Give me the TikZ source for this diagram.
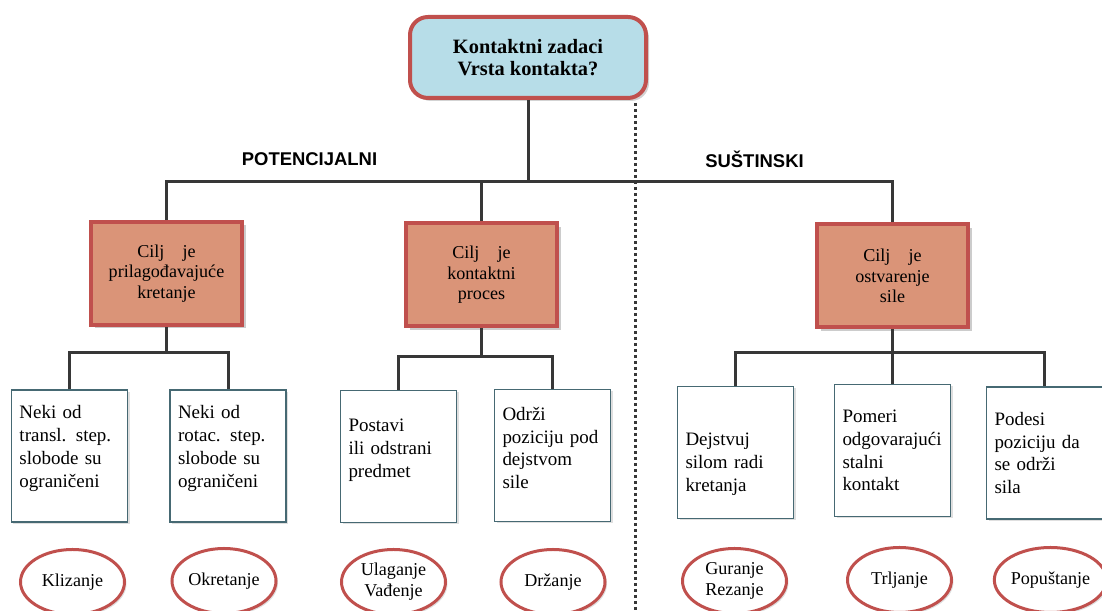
\documentclass[tikz,border=0pt]{standalone}
\usepackage{fontspec}
\setmainfont{Liberation Serif}
\newfontfamily\headsans{Liberation Sans}
\usetikzlibrary{shapes.geometric,shadows}

\definecolor{taskblue}{RGB}{183,221,232}
\definecolor{taskred}{RGB}{192,80,77}
\definecolor{goalfill}{RGB}{218,148,120}
\definecolor{leafedge}{RGB}{70,105,115}
\definecolor{linegray}{RGB}{55,55,55}

\tikzset{
  conn/.style={draw=linegray, line width=0.060000cm},
  taskbox/.style={draw=taskred, fill=taskblue, line width=0.080000cm,
    rounded corners=0.360000cm, minimum width=4.720000cm, minimum height=1.620000cm,
    align=center, font=\bfseries\fontsize{11.6}{12.6}\selectfont,
    drop shadow={opacity=0.35, shadow xshift=0.060000cm, shadow yshift=-0.060000cm}},
  goalbox/.style={draw=taskred, fill=goalfill, line width=0.080000cm,
    minimum width=3.020000cm, minimum height=2.060000cm, text width=2.700000cm,
    align=center, font=\fontsize{10.3}{11.6}\selectfont,
    drop shadow={opacity=0.4, shadow xshift=0.070000cm, shadow yshift=-0.070000cm}},
  leafbox/.style={draw=leafedge, fill=white, line width=0.025000cm,
    minimum width=2.320000cm, minimum height=2.640000cm, text width=2.000000cm,
    inner xsep=0.160000cm, align=left, font=\fontsize{10.8}{13}\selectfont,
    drop shadow={opacity=0.25, shadow xshift=0.040000cm, shadow yshift=-0.040000cm}},
  lift/.style={execute at end node={\par\vspace*{#1}}},
  oval/.style={ellipse, draw=taskred, fill=white, line width=0.060000cm,
    minimum width=2.080000cm, minimum height=1.300000cm, inner sep=0pt,
    align=center, font=\fontsize{10.3}{12}\selectfont,
    drop shadow={opacity=0.25, shadow xshift=0.040000cm, shadow yshift=-0.040000cm}},
  sidelabel/.style={font=\headsans\bfseries\fontsize{10.5}{12}\selectfont}
}

\begin{document}
\begin{tikzpicture}
        \useasboundingbox (0,0) rectangle (22.040000,12.220000);
        {\fontsize{10.3}{12}\selectfont

        % Drawing the separating dotted line
        \draw [draw=linegray, line width=0.060000cm, dash pattern=on 0.060000cm off 0.060000cm] (12.700000,10.160000) -- (12.700000,0.000000);%

        % Marking the main question
        \node [taskbox] (top) at (10.560000,11.070000) {Kontaktni zadaci\\Vrsta kontakta?};%

        % Marking the two kinds of contact
        \node [sidelabel] (pot) at (6.190000,9.040000) {POTENCIJALNI};%
        \node [sidelabel] (sus) at (15.090000,9.040000) {SUŠTINSKI};%

        % Marking the goals
        \node [goalbox] (p1) at (3.330000,6.750000) {Cilj~~~je\\prilagođavajuće\\kretanje};%
        \node [goalbox] (p2) at (9.630000,6.720000) {Cilj~~~je\\kontaktni\\proces};%
        \node [goalbox] (p3) at (17.850000,6.700000) {Cilj~~~je\\ostvarenje\\sile};%

        % Marking the tasks
        \node [leafbox, lift=0.300000cm] (la) at (1.390000,3.100000) {Neki od\\transl. step.\\slobode su\\ograničeni};%
        \node [leafbox, lift=0.300000cm] (lb) at (4.560000,3.100000) {Neki od\\rotac. step.\\slobode su\\ograničeni};%
        \node [leafbox, lift=0.240000cm] (lc) at (7.970000,3.090000) {Postavi\\ili odstrani\\predmet};%
        \node [leafbox, lift=0.300000cm] (ld) at (11.050000,3.110000) {Održi\\poziciju pod\\dejstvom\\sile};%
        \node [leafbox, lift=-0.480000cm] (le) at (14.710000,3.170000) {Dejstvuj\\silom radi\\kretanja};%
        \node [leafbox] (lf) at (17.850000,3.210000) {Pomeri\\odgovarajući\\stalni\\kontakt};%
        \node [leafbox] (lg) at (20.890000,3.160000) {Podesi\\poziciju da\\se održi\\sila};%

        % Marking the examples by ellipses
        \node [oval] (ea) at (1.450000,0.580000) {Klizanje};%
        \node [oval] (eb) at (4.480000,0.600000) {Okretanje};%
        \node [oval] (ec) at (7.870000,0.580000) {Ulaganje\\Vađenje};%
        \node [oval] (ed) at (11.060000,0.580000) {Držanje};%
        \node [oval] (ee) at (14.690000,0.600000) {Guranje\\Rezanje};%
        \node [oval] (ef) at (17.990000,0.620000) {Trljanje};%
        \node [oval, minimum width=1.900000cm] (eg) at (21.010000,0.620000) {Popuštanje};%

        % Drawing the first fork
        \coordinate (split) at (10.560000,8.586000);
        \draw [conn] (top.south) -- (split);%
        \draw [conn] (p1.north) |- (split) -| (p3.north);%
        \draw [conn] (split -| p2.north) -- (p2.north);%

        % Drawing the second forks
        \coordinate (fork1) at (3.330000,5.160000);
        \coordinate (fork2) at (9.630000,5.080000);
        \coordinate (fork3) at (17.850000,5.160000);
        \draw [conn] (p1.south) -- (fork1);%
        \draw [conn] (la.north) |- (fork1) -| (lb.north);%
        \draw [conn] (p2.south) -- (fork2);%
        \draw [conn] (lc.north) |- (fork2) -| (ld.north);%
        \draw [conn] (p3.south) -- (fork3);%
        \draw [conn] (le.north) |- (fork3) -| (lg.north);%
        \draw [conn] (fork3) -- (lf.north);%
        }
    \end{tikzpicture}
\end{document}
